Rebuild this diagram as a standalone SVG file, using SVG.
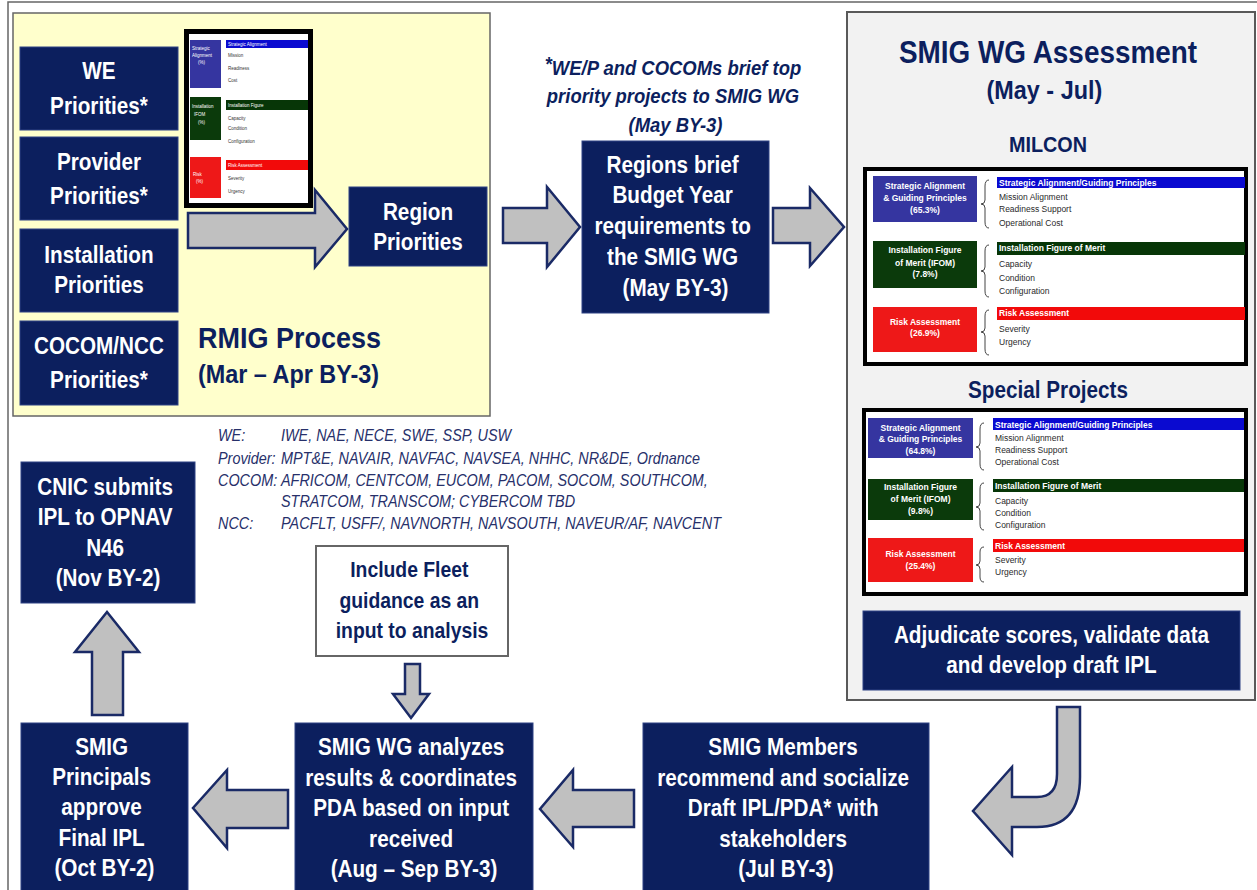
<svg xmlns="http://www.w3.org/2000/svg" width="1257" height="890" viewBox="0 0 1257 890">
  <style>
    .frame { fill: none; stroke: #666; stroke-width: 1.5; }
    .box { fill: #0C1F5E; stroke: #2E4384; stroke-width: 1; }
    .bt { font-family: "Liberation Sans", Arial, sans-serif; font-weight: bold; font-size: 23px; fill: #fff; text-anchor: middle; }
    .nt { font-family: "Liberation Sans", Arial, sans-serif; font-weight: bold; fill: #0C1F5E; }
    .note { font-family: "Liberation Sans", Arial, sans-serif; font-weight: bold; font-style: italic; font-size: 20.5px; fill: #0C1F5E; text-anchor: middle; }
    .leg { font-family: "Liberation Sans", Arial, sans-serif; font-style: italic; font-size: 16px; fill: #27306A; }
    .arrow { fill: #C0C0C0; stroke: #1A2A66; stroke-width: 2.5; stroke-linejoin: miter; }
    .tframe { fill: #fff; stroke: #000; stroke-width: 4; }
    .blue { fill: #3535A0; }
    .bluebar { fill: #0A0AD0; }
    .green { fill: #0B3A0B; }
    .greenbar { fill: #073607; }
    .red { fill: #EE1818; }
    .redbar { fill: #F20A0A; }
    .cell { font-family: "Liberation Sans", Arial, sans-serif; font-weight: bold; font-size: 8.5px; fill: #fff; text-anchor: middle; }
    .bar { font-family: "Liberation Sans", Arial, sans-serif; font-weight: bold; font-size: 8.5px; fill: #fff; }
    .row { font-family: "Liberation Sans", Arial, sans-serif; font-size: 8.5px; fill: #2a2a2a; }
    .brace { fill: none; stroke: #444; stroke-width: 1; }
    .tiny { font-family: "Liberation Sans", Arial, sans-serif; font-size: 4.5px; fill: #333; }
    .tinyw { font-family: "Liberation Sans", Arial, sans-serif; font-size: 4.5px; fill: #fff; }
  </style>

  <!-- page border -->
  <path class="frame" d="M8,890 V2 H1257"/>

  <!-- RMIG process panel -->
  <g id="rmig-panel">
    <rect x="13" y="13" width="477" height="403" fill="#FFFFCC" stroke="#666" stroke-width="1.5"/>
    <g transform="matrix(0.9 0 0 1 19.8 0)">
      <text class="nt" x="198" y="348" font-size="30">RMIG Process</text>
      <text class="nt" x="198" y="383" font-size="26">(Mar – Apr BY-3)</text>
    </g>
  </g>

  <g id="we-priorities">
    <rect class="box" x="20" y="47" width="158" height="83"/>
    <g transform="matrix(0.9 0 0 1 9.9 0)">
      <text class="bt"><tspan x="99" y="79">WE</tspan><tspan x="99" y="114">Priorities*</tspan></text>
    </g>
  </g>

  <g id="provider-priorities">
    <rect class="box" x="20" y="137" width="158" height="83"/>
    <g transform="matrix(0.9 0 0 1 9.9 0)">
      <text class="bt"><tspan x="99" y="170">Provider</tspan><tspan x="99" y="204">Priorities*</tspan></text>
    </g>
  </g>

  <g id="installation-priorities">
    <rect class="box" x="20" y="229" width="158" height="83"/>
    <g transform="matrix(0.9 0 0 1 9.9 0)">
      <text class="bt"><tspan x="99" y="263">Installation</tspan><tspan x="99" y="293">Priorities</tspan></text>
    </g>
  </g>

  <g id="cocom-ncc-priorities">
    <rect class="box" x="20" y="321" width="158" height="84"/>
    <g transform="matrix(0.9 0 0 1 9.9 0)">
      <text class="bt"><tspan x="99" y="354">COCOM/NCC</tspan><tspan x="99" y="388">Priorities*</tspan></text>
    </g>
  </g>

  <g id="region-priorities">
    <rect class="box" x="349" y="187" width="138" height="79"/>
    <g transform="matrix(0.9 0 0 1 41.8 0)">
      <text class="bt"><tspan x="418" y="220">Region</tspan><tspan x="418" y="250">Priorities</tspan></text>
    </g>
  </g>

  <g id="regions-brief">
    <rect class="box" x="582" y="141" width="187" height="172"/>
    <g transform="matrix(0.9 0 0 1 67.55 0)">
      <text class="bt">
        <tspan x="675.5" y="173">Regions brief</tspan>
        <tspan x="675.5" y="203">Budget Year</tspan>
        <tspan x="675.5" y="234">requirements to</tspan>
        <tspan x="675.5" y="265">the SMIG WG</tspan>
        <tspan x="675.5" y="296">(May BY-3)</tspan>
      </text>
    </g>
  </g>

  <g id="brief-note">
    <g transform="matrix(0.9 0 0 1 67.55 0)">
      <text class="note">
        <tspan x="675.5" y="71">*</tspan><tspan dy="4">WE/P and COCOMs brief top</tspan>
        <tspan x="675.5" y="103">priority projects to SMIG WG</tspan>
        <tspan x="675.5" y="132">(May BY-3)</tspan>
      </text>
    </g>
  </g>

  <!-- assessment panel -->
  <g id="smig-wg-assessment">
    <rect x="847" y="12" width="408" height="688" fill="#F2F2F2" stroke="#595959" stroke-width="2"/>
    <g transform="matrix(0.9 0 0 1 104.8 0)">
      <text class="nt" x="1048" y="63" font-size="31" text-anchor="middle">SMIG WG Assessment</text>
      <text class="nt" x="1044" y="99" font-size="26" text-anchor="middle">(May - Jul)</text>
      <text class="nt" x="1048" y="152" font-size="22" text-anchor="middle">MILCON</text>
      <text class="nt" x="1048" y="398" font-size="23" text-anchor="middle">Special Projects</text>
    </g>

    <!-- MILCON scoring table -->
    <g id="milcon-table">
      <rect class="tframe" x="865" y="169" width="381" height="195"/>
      <rect class="blue" x="873" y="176" width="104" height="46"/>
      <text class="cell"><tspan x="925" y="189">Strategic Alignment</tspan><tspan x="925" y="201">&amp; Guiding Principles</tspan><tspan x="925" y="213">(65.3%)</tspan></text>
      <path class="brace" d="M989,180 Q985,180 985,186 L985,200 Q985,204 981,204 Q985,204 985,208 L985,222 Q985,228 989,228"/>
      <rect class="bluebar" x="997" y="177" width="248" height="11"/>
      <text class="bar" x="999" y="185.5">Strategic Alignment/Guiding Principles</text>
      <text class="row"><tspan x="999" y="200">Mission Alignment</tspan><tspan x="999" y="212">Readiness Support</tspan><tspan x="999" y="226">Operational Cost</tspan></text>

      <rect class="green" x="873" y="241" width="104" height="47"/>
      <text class="cell"><tspan x="925" y="253">Installation Figure</tspan><tspan x="925" y="266">of Merit (IFOM)</tspan><tspan x="925" y="277">(7.8%)</tspan></text>
      <path class="brace" d="M989,245 Q985,245 985,251 L985,267 Q985,271 981,271 Q985,271 985,275 L985,291 Q985,297 989,297"/>
      <rect class="greenbar" x="997" y="242" width="248" height="13"/>
      <text class="bar" x="999" y="251">Installation Figure of Merit</text>
      <text class="row"><tspan x="999" y="267">Capacity</tspan><tspan x="999" y="281">Condition</tspan><tspan x="999" y="294">Configuration</tspan></text>

      <rect class="red" x="873" y="307" width="104" height="45"/>
      <text class="cell"><tspan x="925" y="325">Risk Assessment</tspan><tspan x="925" y="336">(26.9%)</tspan></text>
      <path class="brace" d="M989,310 Q985,310 985,316 L985,328 Q985,332 981,332 Q985,332 985,336 L985,349 Q985,355 989,355"/>
      <rect class="redbar" x="997" y="307" width="248" height="13"/>
      <text class="bar" x="999" y="316">Risk Assessment</text>
      <text class="row"><tspan x="999" y="332">Severity</tspan><tspan x="999" y="345">Urgency</tspan></text>
    </g>

    <!-- Special Projects scoring table -->
    <g id="special-projects-table">
      <rect class="tframe" x="864" y="410" width="382" height="184"/>
      <rect class="blue" x="868" y="418" width="105" height="40"/>
      <text class="cell"><tspan x="920.5" y="431">Strategic Alignment</tspan><tspan x="920.5" y="442">&amp; Guiding Principles</tspan><tspan x="920.5" y="454">(64.8%)</tspan></text>
      <path class="brace" d="M984,423 Q980,423 980,429 L980,443 Q980,447 976,447 Q980,447 980,451 L980,464 Q980,470 984,470"/>
      <rect class="bluebar" x="993" y="418" width="251" height="12"/>
      <text class="bar" x="995" y="427.5">Strategic Alignment/Guiding Principles</text>
      <text class="row"><tspan x="995" y="441">Mission Alignment</tspan><tspan x="995" y="453">Readiness Support</tspan><tspan x="995" y="465">Operational Cost</tspan></text>

      <rect class="green" x="868" y="479" width="105" height="41"/>
      <text class="cell"><tspan x="920.5" y="490">Installation Figure</tspan><tspan x="920.5" y="502">of Merit (IFOM)</tspan><tspan x="920.5" y="514">(9.8%)</tspan></text>
      <path class="brace" d="M984,483 Q980,483 980,489 L980,503 Q980,507 976,507 Q980,507 980,511 L980,524 Q980,530 984,530"/>
      <rect class="greenbar" x="993" y="479" width="251" height="13"/>
      <text class="bar" x="995" y="488.5">Installation Figure of Merit</text>
      <text class="row"><tspan x="995" y="504">Capacity</tspan><tspan x="995" y="516">Condition</tspan><tspan x="995" y="528">Configuration</tspan></text>

      <rect class="red" x="868" y="538" width="105" height="44"/>
      <text class="cell"><tspan x="920.5" y="557">Risk Assessment</tspan><tspan x="920.5" y="569">(25.4%)</tspan></text>
      <path class="brace" d="M984,547 Q980,547 980,552 L980,561 Q980,565 976,565 Q980,565 980,569 L980,577 Q980,582 984,582"/>
      <rect class="redbar" x="993" y="539" width="251" height="13"/>
      <text class="bar" x="995" y="548.5">Risk Assessment</text>
      <text class="row"><tspan x="995" y="563">Severity</tspan><tspan x="995" y="575">Urgency</tspan></text>
    </g>
  </g>

  <g id="adjudicate">
    <rect class="box" x="863" y="611" width="377" height="79"/>
    <g transform="matrix(0.9 0 0 1 105.15 0)">
      <text class="bt"><tspan x="1051.5" y="643">Adjudicate scores, validate data</tspan><tspan x="1051.5" y="673">and develop draft IPL</tspan></text>
    </g>
  </g>

  <!-- organisation legend -->
  <g id="legend" transform="matrix(0.9 0 0 1 21.8 0)">
    <text class="leg" x="218" y="441">WE:</text>
    <text class="leg" x="288" y="441">IWE, NAE, NECE, SWE, SSP, USW</text>
    <text class="leg" x="218" y="464">Provider:</text>
    <text class="leg" x="288" y="464">MPT&amp;E, NAVAIR, NAVFAC, NAVSEA, NHHC, NR&amp;DE, Ordnance</text>
    <text class="leg" x="218" y="486">COCOM:</text>
    <text class="leg" x="288" y="486">AFRICOM, CENTCOM, EUCOM, PACOM, SOCOM, SOUTHCOM,</text>
    <text class="leg" x="288" y="507">STRATCOM, TRANSCOM; CYBERCOM TBD</text>
    <text class="leg" x="218" y="529">NCC:</text>
    <text class="leg" x="288" y="529">PACFLT, USFF/, NAVNORTH, NAVSOUTH, NAVEUR/AF, NAVCENT</text>
  </g>

  <g id="cnic-submits">
    <rect class="box" x="21" y="462" width="174" height="141"/>
    <g transform="matrix(0.9 0 0 1 10.8 0)">
      <text class="bt">
        <tspan x="108" y="495">CNIC submits</tspan>
        <tspan x="108" y="525">IPL to OPNAV</tspan>
        <tspan x="108" y="556">N46</tspan>
        <tspan x="108" y="586">(Nov BY-2)</tspan>
      </text>
    </g>
  </g>

  <g id="principals-approve">
    <rect class="box" x="21" y="723" width="167" height="172"/>
    <g transform="matrix(0.9 0 0 1 10.45 0)">
      <text class="bt">
        <tspan x="104.5" y="755">SMIG</tspan>
        <tspan x="104.5" y="785">Principals</tspan>
        <tspan x="104.5" y="815">approve</tspan>
        <tspan x="104.5" y="846">Final IPL</tspan>
        <tspan x="104.5" y="876">(Oct BY-2)</tspan>
      </text>
    </g>
  </g>

  <g id="fleet-guidance">
    <rect x="316" y="546" width="192" height="110" fill="#fff" stroke="#666" stroke-width="2"/>
    <g transform="matrix(0.9 0 0 1 41.2 0)">
      <text class="nt" font-size="21.5" text-anchor="middle">
        <tspan x="412" y="577">Include Fleet</tspan>
        <tspan x="412" y="608">guidance as an</tspan>
        <tspan x="412" y="638">input to analysis</tspan>
      </text>
    </g>
  </g>

  <g id="wg-analyzes">
    <rect class="box" x="295" y="723" width="238" height="172"/>
    <g transform="matrix(0.9 0 0 1 41.4 0)">
      <text class="bt">
        <tspan x="414" y="755">SMIG WG analyzes</tspan>
        <tspan x="414" y="786">results &amp; coordinates</tspan>
        <tspan x="414" y="816">PDA based on input</tspan>
        <tspan x="414" y="847">received</tspan>
        <tspan x="414" y="877">(Aug – Sep BY-3)</tspan>
      </text>
    </g>
  </g>

  <g id="members-recommend">
    <rect class="box" x="643" y="723" width="286" height="172"/>
    <g transform="matrix(0.9 0 0 1 78.6 0)">
      <text class="bt">
        <tspan x="786" y="755">SMIG Members</tspan>
        <tspan x="786" y="786">recommend and socialize</tspan>
        <tspan x="786" y="816">Draft IPL/PDA* with</tspan>
        <tspan x="786" y="847">stakeholders</tspan>
        <tspan x="786" y="877">(Jul BY-3)</tspan>
      </text>
    </g>
  </g>

  <!-- block arrows between steps -->
  <g id="connectors">
    <polygon class="arrow" points="188,213 315,213 315,190 347,229 315,267 315,248 188,248"/>
    <polygon class="arrow" points="503,208 547,208 547,187 580,227 547,267 547,243 503,243"/>
    <polygon class="arrow" points="773,208 810,208 810,188 844,227 810,266 810,243 773,243"/>
    <path class="arrow" d="M1057,707 L1080,707 L1080,777 Q1080,827 1037,827 L1012,827 L1012,855 L973,811 L1012,767 L1012,797 L1037,797 Q1057,797 1057,774 Z"/>
    <polygon class="arrow" points="634,790 573,790 573,770 540,809 573,847 573,827 634,827"/>
    <polygon class="arrow" points="288,790 227,790 227,770 193,808 227,848 227,828 288,828"/>
    <polygon class="arrow" points="92,715 92,652 75,652 107,612 139,652 123,652 123,715"/>
    <polygon class="arrow" stroke-width="2" points="405,664 420,664 420,694 429,694 411,718 393,694 405,694"/>
  </g>

  <!-- miniature copy of the scoring table -->
  <g id="table-thumbnail">
    <rect x="186.5" y="31.5" width="124" height="174" fill="#fff" stroke="#000" stroke-width="5"/>
    <rect class="blue" x="190" y="40" width="31" height="48"/>
    <text class="tinyw"><tspan x="192" y="50">Strategic</tspan><tspan x="192" y="57">Alignment</tspan><tspan x="198" y="64">(%)</tspan></text>
    <rect class="bluebar" x="226" y="40" width="82" height="8"/>
    <text class="tinyw" x="228" y="46">Strategic Alignment</text>
    <text class="tiny"><tspan x="228" y="57">Mission</tspan><tspan x="228" y="70">Readiness</tspan><tspan x="228" y="82">Cost</tspan></text>
    <rect class="green" x="190" y="97" width="31" height="43"/>
    <text class="tinyw"><tspan x="192" y="108">Installation</tspan><tspan x="194" y="116">IFOM</tspan><tspan x="198" y="124">(%)</tspan></text>
    <rect class="greenbar" x="226" y="100" width="82" height="10"/>
    <text class="tinyw" x="228" y="107">Installation Figure</text>
    <text class="tiny"><tspan x="228" y="120">Capacity</tspan><tspan x="228" y="130">Condition</tspan><tspan x="228" y="143">Configuration</tspan></text>
    <rect class="red" x="190" y="157" width="31" height="41"/>
    <text class="tinyw"><tspan x="193" y="176">Risk</tspan><tspan x="196" y="183">(%)</tspan></text>
    <rect class="redbar" x="226" y="160" width="82" height="10"/>
    <text class="tinyw" x="228" y="167">Risk Assessment</text>
    <text class="tiny"><tspan x="228" y="180">Severity</tspan><tspan x="228" y="193">Urgency</tspan></text>
  </g>
</svg>
